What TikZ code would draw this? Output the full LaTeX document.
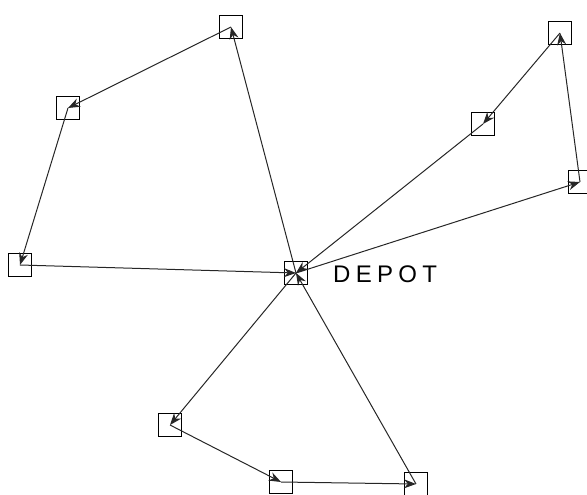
\documentclass[tikz,border=0pt]{standalone}
\usepackage{fontspec}
\newfontfamily\depotfont[LetterSpace=22]{Liberation Sans}
\usetikzlibrary{arrows.meta}
\begin{document}
\begin{tikzpicture}[x=1pt,y=-1pt,
  site/.style={draw, line width=1.2pt, minimum size=23pt, inner sep=0pt},
  route/.style={line width=1pt, draw=black!85, -{Stealth[length=12pt,width=9pt]}}]
\useasboundingbox (0,0) rectangle (587,495);
\node[site] (A) at (231,27) {};
\node[site] (B) at (68,108) {};
\node[site] (C) at (20,265) {};
\node[site] (P) at (296,273) {};
\node[site] (D) at (560,33) {};
\node[site] (E) at (483,124) {};
\node[site] (F) at (580,182) {};
\node[site] (G) at (170,425) {};
\node[site] (H) at (281,482) {};
\node[site] (I) at (416,484) {};
\node[anchor=west, inner sep=0pt, font=\depotfont\fontsize{24}{24}\selectfont] (L) at (333,274) {DEPOT};
\draw[route] (P.center) -- (A.center);
\draw[route] (A.center) -- (B.center);
\draw[route] (B.center) -- (C.center);
\draw[route] (C.center) -- (P.center);
\draw[route] (P.center) -- (F.center);
\draw[route] (F.center) -- (D.center);
\draw[route] (D.center) -- (E.center);
\draw[route] (E.center) -- (P.center);
\draw[route] (P.center) -- (G.center);
\draw[route] (G.center) -- (H.center);
\draw[route] (H.center) -- (I.center);
\draw[route] (I.center) -- (P.center);
\end{tikzpicture}
\end{document}
